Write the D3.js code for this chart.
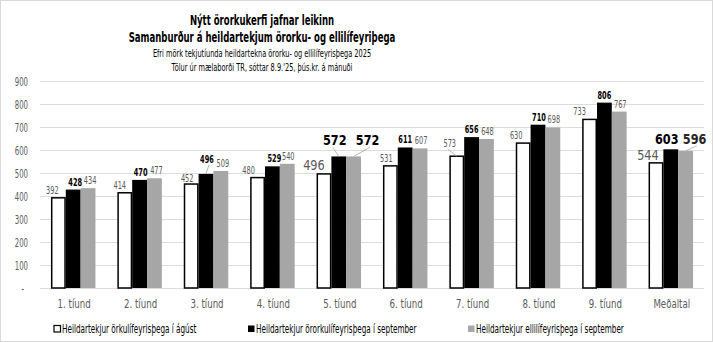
<!DOCTYPE html>
<html>
<head>
<meta charset="utf-8">
<script src="https://cdn.jsdelivr.net/npm/d3@7"></script>
<style>
  html, body { margin: 0; padding: 0; background: #fff; }
  svg { display: block; }
</style>
</head>
<body>
<svg id="chart" width="713" height="342"></svg>
<script>
// ---------------- DATA ----------------
const categories = ["1. tíund", "2. tíund", "3. tíund", "4. tíund", "5. tíund",
                    "6. tíund", "7. tíund", "8. tíund", "9. tíund", "Meðaltal"];
const seriesNames = [
  "Heildartekjur örkulífeyrisþega í ágúst",
  "Heildartekjur örorkulífeyrisþega í september",
  "Heildartekjur ellilífeyrisþega í september"
];
const augDisability = [392, 414, 452, 480, 496, 531, 573, 630, 733, 544];
const sepDisability = [428, 470, 496, 529, 572, 611, 656, 710, 806, 603];
const sepOldAge     = [434, 477, 509, 540, 572, 607, 648, 698, 767, 596];
const yTicks = [0, 100, 200, 300, 400, 500, 600, 700, 800, 900];
const yTickLabels = ["-", "100", "200", "300", "400", "500", "600", "700", "800", "900"];
const titleLines = ["Nýtt örorkukerfi jafnar leikinn",
                    "Samanburður á heildartekjum örorku- og ellilífeyriþega"];
const subtitleLines = ["Efri mörk tekjutíunda heildartekna örorku- og ellilífeyrisþega 2025",
                       "Tölur úr mælaborði TR, sóttar 8.9.'25, þús.kr. á mánuði"];

// ---------------- LAYOUT / STYLE ----------------
const series = [augDisability, sepDisability, sepOldAge];
const barFill = ["#ffffff", "#000000", "#a6a6a6"];
const barStroke = ["#000000", "none", "none"];
const labelColor = ["#595959", "#000000", "#595959"];
// manual label nudges (as in the reference's hand-placed labels)
const labelDx = [
  [-6, -5, -4, -9, -10, -4, -7, -7, -10, -8],
  [ 2,  1,  1,  2,  -4,  0,  0,  1,   0, -4],
  [ 2,  2,  2,  1,  14,  1,  1,  1,   1,  9]
];
const labelDy = [
  [0, 0, 2, 0, 0, 0, -5, 0, 0, 1],
  [0, 0, -7, 0, -7, 0, 0, 0, 0, -1],
  [0, 0, 0, 0, -7, 0, 0, 0, 0, -3]
];
const leader = [
  [0, 0, 0, 0, 0, 0, 1, 0, 0, 0],
  [0, 0, 1, 0, 1, 0, 0, 0, 0, 0],
  [0, 0, 0, 0, 1, 0, 0, 0, 0, 1]
];
const bigGroups = [4, 9];

const FONT = "'DejaVu Sans', Verdana, sans-serif";

const svg = d3.select("#chart");
const W = 713, H = 342;
const plot = { left: 40, right: 704, top: 81, bottom: 288 };

svg.append("rect").attr("x", 0.5).attr("y", 0.5).attr("width", W - 1).attr("height", H - 1)
  .attr("fill", "#fff").attr("stroke", "#d9d9d9");

function txt(parent, x, y, s, o = {}) {
  return parent.append("text")
    .attr("transform", `translate(${x},${y}) scale(${o.sx || 0.62},1)`)
    .attr("font-family", FONT)
    .attr("font-size", o.size || 11)
    .attr("font-weight", o.weight || "normal")
    .attr("fill", o.fill || "#595959")
    .attr("text-anchor", o.anchor || "middle")
    .text(s);
}

// scales
const x0 = d3.scaleBand().domain(categories).range([plot.left, plot.right])
  .paddingInner(0.33).paddingOuter(0.165);
const x1 = d3.scaleBand().domain([0, 1, 2]).range([0, x0.bandwidth()]);
const y = d3.scaleLinear().domain([0, 900]).range([plot.bottom, plot.top]);

// gridlines
svg.append("g").selectAll("line").data(yTicks).join("line")
  .attr("x1", plot.left).attr("x2", plot.right)
  .attr("y1", d => Math.round(y(d)) + 0.5).attr("y2", d => Math.round(y(d)) + 0.5)
  .attr("stroke", "#dcdcdc").attr("stroke-width", 1);

// y tick labels
const yg = svg.append("g");
yTicks.forEach((d, i) => {
  txt(yg, d === 0 ? 24 : 28, y(d) + 4.5, yTickLabels[i], { size: 12, anchor: "end", sx: 0.58 });
});

// category labels
const xg = svg.append("g");
categories.forEach(c => {
  txt(xg, x0(c) + x0.bandwidth() / 2 + 1, 308, c, { size: 12, sx: 0.72 });
});

// bars
const bars = svg.append("g");
series.forEach((vals, s) => {
  bars.append("g").selectAll("rect").data(vals).join("rect")
    .attr("x", (d, i) => x0(categories[i]) + x1(s) + (s === 0 ? 0.75 : 0))
    .attr("y", d => y(d))
    .attr("width", x1.bandwidth() - (s === 0 ? 1.5 : 0))
    .attr("height", d => y(0) - y(d))
    .attr("fill", barFill[s])
    .attr("stroke", barStroke[s])
    .attr("stroke-width", 1.5);
});

// data labels
const lg = svg.append("g");
series.forEach((vals, s) => {
  vals.forEach((v, i) => {
    const cx = x0(categories[i]) + x1(s) + x1.bandwidth() / 2;
    const top = y(v);
    const big = bigGroups.includes(i);
    const lx = cx + labelDx[s][i];
    const ly = top - 4 + labelDy[s][i];
    if (leader[s][i]) {
      lg.append("line")
        .attr("x1", lx + (cx > lx ? -2 : 2)).attr("y1", ly + 2)
        .attr("x2", cx).attr("y2", top)
        .attr("stroke", "#a6a6a6").attr("stroke-width", 0.8);
    }
    txt(lg, lx, ly, String(v), {
      size: big ? 14.5 : 10,
      weight: big && s > 0 ? "bold" : (s === 1 ? "bold" : "normal"),
      fill: big ? (s === 0 ? "#595959" : (s === 2 && i === 9 ? "#262626" : "#000")) : labelColor[s],
      sx: big ? 0.78 : 0.66
    });
  });
});

// titles
const tg = svg.append("g");
txt(tg, 262, 25, titleLines[0], { size: 14, weight: "bold", fill: "#000", sx: 0.61 });
txt(tg, 262, 42, titleLines[1], { size: 14, weight: "bold", fill: "#000", sx: 0.61 });
txt(tg, 262, 57, subtitleLines[0], { size: 10, fill: "#000", sx: 0.66 });
txt(tg, 262, 71, subtitleLines[1], { size: 10, fill: "#000", sx: 0.66 });

// legend
const legX = [54, 248, 468];
const leg = svg.append("g");
seriesNames.forEach((n, s) => {
  leg.append("rect").attr("x", legX[s]).attr("y", 325.5).attr("width", 6.5).attr("height", 6.5)
    .attr("fill", barFill[s]).attr("stroke", s === 0 ? "#000" : "none").attr("stroke-width", 1.2);
  txt(leg, legX[s] + 8, 333, n, { size: 11.5, fill: "#000", anchor: "start", sx: 0.63 });
});
</script>
</body>
</html>
